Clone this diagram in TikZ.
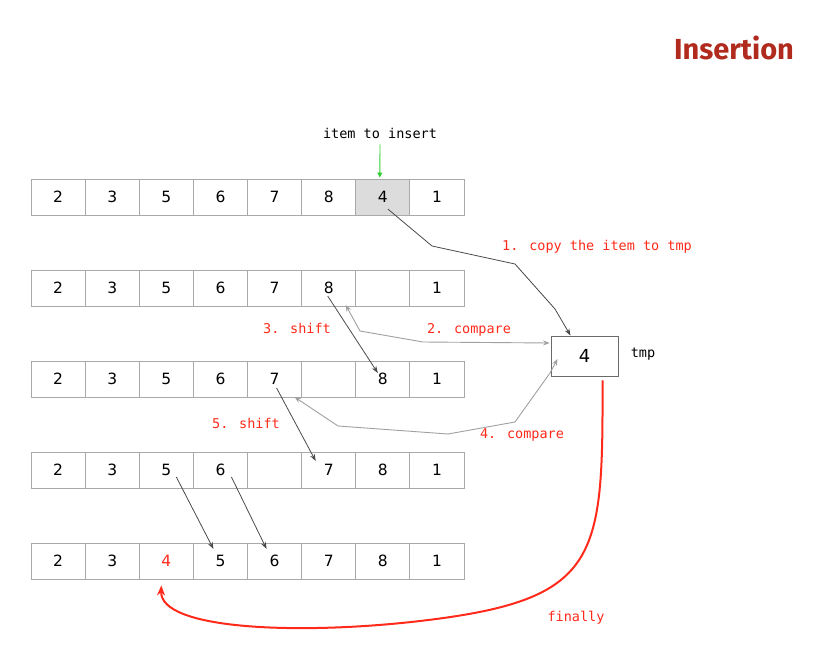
\documentclass[tikz,border=0pt]{standalone}
\usepackage{fontspec}
\setmainfont{DejaVu Sans}
\newfontfamily\monofont{DejaVu Sans Mono}
\newfontfamily\titlefont{Fira Sans}
\usetikzlibrary{arrows.meta,calc}
\definecolor{cellline}{HTML}{A9A9A9}
\definecolor{hifill}{HTML}{DCDCDC}
\definecolor{notered}{HTML}{FF2A1A}
\definecolor{titlered}{HTML}{B02A1E}
\definecolor{darkarrow}{HTML}{4A4A4A}
\definecolor{boxline}{HTML}{6A6A6A}
\definecolor{lightarrow}{HTML}{A0A0A0}
\definecolor{pointgreen}{HTML}{33CC33}
\begin{document}
\begin{tikzpicture}[x=1bp,y=-1bp,
  cell/.style={draw=cellline,line width=0.9bp,minimum width=54.125bp,minimum height=36bp,
    inner sep=0pt,font=\fontsize{15.5bp}{17bp}\selectfont},
  hicell/.style={cell,fill=hifill},
  newcell/.style={cell,text=notered},
  tmpbox/.style={draw=boxline,line width=0.9bp,fill=white,minimum width=67bp,minimum height=40bp,
    inner sep=0pt,font=\fontsize{18bp}{20bp}\selectfont},
  note/.style={font=\monofont\fontsize{13.5bp}{15bp}\selectfont,text=notered,inner sep=0pt},
  plain/.style={font=\monofont\fontsize{13.5bp}{15bp}\selectfont,inner sep=0pt},
  shiftarrow/.style={draw=darkarrow,line width=0.8bp,-{Stealth[length=7bp,width=5bp]}},
  copyarrow/.style={draw=darkarrow,line width=0.8bp,-{Stealth[length=7bp,width=5bp]}},
  cmparrow/.style={draw=lightarrow,line width=0.9bp,{Stealth[length=6.5bp,width=5bp]}-{Stealth[length=6.5bp,width=5bp]}},
  finalarrow/.style={draw=notered,line width=2bp,-{Stealth[length=10bp,width=8bp]}}]
\useasboundingbox (0,0) rectangle (815,668);

% title
\node[font=\titlefont\bfseries\fontsize{29bp}{32bp}\selectfont,text=titlered] (title) at (734,48) {Insertion};

% the five states of the array
\foreach \v/\s [count=\i] in {2/cell,3/cell,5/cell,6/cell,7/cell,8/cell,4/hicell,1/cell}
  \node[\s] (r1c\i) at ({31+54.125*(\i-0.5)},197) {\v};
\foreach \v/\s [count=\i] in {2/cell,3/cell,5/cell,6/cell,7/cell,8/cell,{}/cell,1/cell}
  \node[\s] (r2c\i) at ({31+54.125*(\i-0.5)},288) {\v};
\foreach \v/\s [count=\i] in {2/cell,3/cell,5/cell,6/cell,7/cell,{}/cell,8/cell,1/cell}
  \node[\s] (r3c\i) at ({31+54.125*(\i-0.5)},379) {\v};
\foreach \v/\s [count=\i] in {2/cell,3/cell,5/cell,6/cell,{}/cell,7/cell,8/cell,1/cell}
  \node[\s] (r4c\i) at ({31+54.125*(\i-0.5)},470) {\v};
\foreach \v/\s [count=\i] in {2/cell,3/cell,4/newcell,5/cell,6/cell,7/cell,8/cell,1/cell}
  \node[\s] (r5c\i) at ({31+54.125*(\i-0.5)},561) {\v};

% temporary slot
\node[tmpbox] (tmp) at (584.5,356) {4};
\node[plain] (tmplabel) at (643,354) {tmp};

% item marker
\node[plain] (itemlabel) at (380,133) {item to insert};
\coordinate (itemtip) at ($(r1c7.north)+(-3,-1)$);
\draw[pointgreen,line width=0.9bp,-{Triangle[length=5bp,width=5bp]}] (itemlabel.south) ++(0,6) coordinate (itemtail) (itemtail) -- (itemtip);

% 1. copy
\coordinate (copystart) at ($(r1c7.center)+(5,12)$);
\draw[copyarrow] (copystart) -- (432,246) -- (515,264) -- (555,309) -- ($(tmp.north)+(-14,0)$);
\node[note] (lab1) at (597,247) {1. copy the item to tmp};

% 2. compare
\coordinate (cmp2a) at ($(r2c6.center)+(17,17)$);
\draw[cmparrow] (cmp2a) -- (360,331) -- (423,342) -- ($(tmp.west)+(-1,-13)$);
\node[note] (lab2) at (469,330) {2. compare};

% 3. shift
\draw[shiftarrow] ($(r2c6.center)+(-1,8)$) -- ($(r3c7.center)+(-5,-6)$);
\node[note] (lab3) at (297,328) {3. shift};

% 4. compare
\draw[cmparrow] ($(tmp.west)+(7,3)$) -- (550,373) -- (515,422) -- (448,434) -- (338,426) -- ($(r3c5.center)+(20,18)$);
\node[note] (lab4) at (522,435) {4. compare};

% 5. shift
\draw[shiftarrow] ($(r3c5.center)+(2,9)$) -- ($(r4c6.center)+(-13,-9)$);
\node[note] (lab5) at (246,423) {5. shift};

% shifting 5 and 6
\draw[shiftarrow] ($(r4c3.center)+(10,7)$) -- ($(r5c4.center)+(-7,-12)$);
\draw[shiftarrow] ($(r4c4.center)+(11,7)$) -- ($(r5c5.center)+(-8,-12)$);

% finally: put tmp into the gap
\draw[finalarrow] ($(tmp.south)+(18,4)$) .. controls (603,560) and (600,600) .. (420,621)
  .. controls (300,635) and (160,630) .. ($(r5c3.south)+(-5,6)$);
\node[note] (lab6) at (576,618) {finally};
\end{tikzpicture}
\end{document}
